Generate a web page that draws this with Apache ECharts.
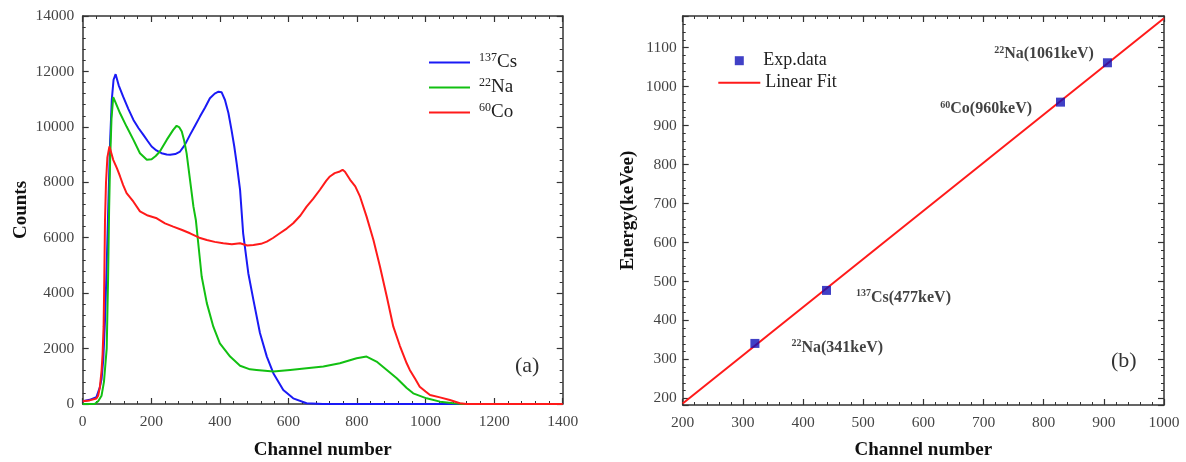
<!DOCTYPE html>
<html>
<head>
<meta charset="utf-8">
<script src="https://cdn.jsdelivr.net/npm/echarts@6/dist/echarts.min.js"></script>
<style>
  html, body { margin: 0; padding: 0; background: #fff; }
  #chart { width: 1186px; height: 462px; }
</style>
</head>
<body>
<div id="chart"></div>
<script>
// (a) pulse height spectra, channel -> counts
const csChannels = [0, 20, 40, 50, 55, 60, 65, 70, 75, 80, 85, 90, 96, 105, 118, 133, 148, 163, 177, 190, 201, 215, 230, 245, 255, 270, 284, 298, 313, 328, 342, 357, 371, 385, 396, 405, 415, 425, 434, 442, 449, 459, 468, 483, 498, 517, 537, 556, 585, 614, 653, 700, 800, 900, 1000, 1100]
const csCounts = [100, 150, 250, 600, 900, 1600, 3000, 5000, 7300, 9500, 11000, 11700, 11900, 11500, 11090, 10650, 10250, 9950, 9710, 9480, 9290, 9150, 9050, 9000, 8990, 9020, 9110, 9350, 9710, 10050, 10370, 10700, 11030, 11200, 11270, 11250, 10970, 10500, 9890, 9300, 8690, 7725, 6160, 4720, 3750, 2560, 1710, 1110, 505, 205, 25, 0, 0, 0, 0, 0]

const naChannels = [0, 35, 45, 55, 62, 66, 70, 74, 77, 80, 84, 89, 95, 109, 128, 148, 167, 187, 201, 213, 225, 245, 264, 274, 282, 289, 296, 303, 313, 323, 330, 337, 347, 362, 381, 400, 430, 459, 488, 507, 556, 605, 653, 702, 750, 799, 828, 857, 887, 916, 945, 964, 1003, 1042, 1081, 1110, 1150]
const naCounts = [0, 0, 100, 300, 800, 1400, 2000, 4500, 7000, 8800, 10300, 11070, 10900, 10490, 10010, 9530, 9050, 8810, 8830, 8950, 9110, 9530, 9890, 10040, 9980, 9830, 9500, 9050, 8090, 7120, 6640, 5800, 4600, 3640, 2790, 2190, 1710, 1380, 1250, 1230, 1170, 1230, 1290, 1350, 1470, 1650, 1710, 1530, 1230, 930, 580, 385, 205, 85, 25, 0, 0]

const coChannels = [0, 20, 40, 45, 50, 55, 58, 61, 63, 65, 68, 72, 78, 89, 100, 109, 118, 128, 148, 167, 190, 216, 240, 264, 290, 313, 340, 362, 385, 410, 435, 459, 480, 498, 520, 537, 555, 575, 595, 614, 635, 653, 672, 692, 710, 721, 735, 750, 758, 765, 780, 795, 809, 828, 848, 867, 887, 906, 925, 945, 954, 970, 983, 1000, 1013, 1042, 1071, 1100, 1120, 1400]
const coCounts = [100, 130, 200, 300, 600, 1200, 1800, 2800, 4500, 6600, 8000, 8900, 9290, 8810, 8500, 8210, 7900, 7610, 7300, 6950, 6800, 6700, 6520, 6400, 6280, 6160, 6000, 5920, 5850, 5800, 5760, 5800, 5720, 5740, 5780, 5860, 5990, 6160, 6330, 6520, 6800, 7120, 7400, 7730, 8050, 8210, 8330, 8390, 8450, 8380, 8090, 7850, 7480, 6760, 5920, 4960, 3870, 2790, 2100, 1470, 1230, 900, 625, 450, 325, 240, 145, 25, 0, 0]

// (b) calibration points and linear fit
const expChannels = [320, 439, 828, 906]
const expEnergy = [341, 477, 960, 1061]
const expMass = ['22', '137', '60', '22']
const expElement = ['Na', 'Cs', 'Co', 'Na']
const fitChannels = [200, 1000]
const fitEnergy = [187, 1175]

const serif = 'Liberation Serif'
const axisColor = '#333'
const zip = (xs, ys) => xs.map((x, i) => [x, ys[i]])

// label placement for the four calibration points
const labelPlace = [
  { position: 'right', offset: [27, 4] },
  { position: 'right', offset: [20, 7] },
  { position: 'left', offset: [-19, 7] },
  { position: 'left', offset: [-4, -9] }
]

function boxAxis(opts, main, margin) {
  return Object.assign({
    type: 'value',
    axisLine: { show: true, onZero: false, lineStyle: { color: axisColor, width: 1.5 } },
    axisTick: { show: true, inside: true, length: 6, lineStyle: { color: axisColor, width: 1.2 } },
    minorTick: { show: true, splitNumber: 5, length: 3, lineStyle: { color: axisColor, width: 1 } },
    splitLine: { show: false },
    axisLabel: main
      ? { show: true, fontFamily: serif, fontSize: 15.5, color: '#444', margin: margin || 8, formatter: v => String(v) }
      : { show: false }
  }, opts)
}

const nameStyle = { fontFamily: serif, fontSize: 19, fontWeight: 'bold', color: '#111' }
const supRich = {
  s: { fontFamily: serif, fontSize: 12, verticalAlign: 'top', color: '#222', lineHeight: 21 },
  m: { fontFamily: serif, fontSize: 19, color: '#222', lineHeight: 21 }
}

const chart = echarts.init(document.getElementById('chart'))
chart.setOption({
  animation: false,
  backgroundColor: '#fff',
  title: [
    { text: '(a)', left: 510, top: 350, textStyle: { fontFamily: serif, fontSize: 22, fontWeight: 'normal', color: '#333' } },
    { text: '(b)', left: 1106, top: 345, textStyle: { fontFamily: serif, fontSize: 22, fontWeight: 'normal', color: '#333' } }
  ],
  grid: [
    { left: 82.7, right: 623.3, top: 16, bottom: 58, outerBoundsMode: 'none', containLabel: false },
    { left: 682.7, right: 22, top: 16, bottom: 57, outerBoundsMode: 'none', containLabel: false }
  ],
  legend: [
    {
      data: ['137Cs', '22Na', '60Co'],
      orient: 'vertical', left: 429, top: 52, padding: 0, itemGap: 5,
      icon: 'rect', itemWidth: 41, itemHeight: 2,
      formatter: function(name) {
        const m = name.match(/^(\d+)(\D+)$/)
        return '{s|' + m[1] + '}{m|' + m[2] + '}'
      },
      textStyle: { padding: [0, 0, 0, 4], rich: supRich }
    },
    {
      data: ['Exp.data'],
      left: 734.8, top: 50.7, padding: 0,
      icon: 'rect', itemWidth: 9, itemHeight: 9,
      textStyle: { fontFamily: serif, fontSize: 18, color: '#222', padding: [0, 0, 0, 14.5], lineHeight: 20 }
    },
    {
      data: ['Linear Fit'],
      left: 718.3, top: 72.7, padding: 0,
      icon: 'rect', itemWidth: 42, itemHeight: 2,
      textStyle: { fontFamily: serif, fontSize: 18, color: '#222', lineHeight: 20 }
    }
  ],
  xAxis: [
    boxAxis({ gridIndex: 0, min: 0, max: 1400, interval: 200, name: 'Channel number', nameLocation: 'middle', nameGap: 37, nameTextStyle: nameStyle }, true, 10),
    boxAxis({ gridIndex: 0, min: 0, max: 1400, interval: 200, position: 'top' }, false),
    boxAxis({ gridIndex: 1, min: 200, max: 1000, interval: 100, name: 'Channel number', nameLocation: 'middle', nameGap: 36, nameTextStyle: nameStyle }, true, 10),
    boxAxis({ gridIndex: 1, min: 200, max: 1000, interval: 100, position: 'top' }, false)
  ],
  yAxis: [
    boxAxis({ gridIndex: 0, min: 0, max: 14000, interval: 2000, name: 'Counts', nameLocation: 'middle', nameGap: 52, nameTextStyle: nameStyle }, true, 8.5),
    boxAxis({ gridIndex: 0, min: 0, max: 14000, interval: 2000, position: 'right' }, false),
    boxAxis({
      gridIndex: 1, min: 183, max: 1181, splitNumber: 10, name: 'Energy(keVee)', nameLocation: 'middle', nameGap: 45, nameTextStyle: nameStyle,
      axisLabel: { show: true, fontFamily: serif, fontSize: 15.5, color: '#444', margin: 6, formatter: v => (v % 100 === 0 ? String(v) : '') }
    }, true),
    boxAxis({ gridIndex: 1, min: 183, max: 1181, splitNumber: 10, position: 'right' }, false)
  ],
  series: [
    {
      name: '137Cs', type: 'line', xAxisIndex: 0, yAxisIndex: 0,
      data: zip(csChannels, csCounts), showSymbol: false, symbol: 'none',
      lineStyle: { color: '#1a1af5', width: 2 }, itemStyle: { color: '#1a1af5' }
    },
    {
      name: '22Na', type: 'line', xAxisIndex: 0, yAxisIndex: 0,
      data: zip(naChannels, naCounts), showSymbol: false, symbol: 'none',
      lineStyle: { color: '#12c012', width: 2 }, itemStyle: { color: '#12c012' }
    },
    {
      name: '60Co', type: 'line', xAxisIndex: 0, yAxisIndex: 0,
      data: zip(coChannels, coCounts), showSymbol: false, symbol: 'none',
      lineStyle: { color: '#ff1a1a', width: 2 }, itemStyle: { color: '#ff1a1a' }
    },
    {
      name: 'Linear Fit', type: 'line', xAxisIndex: 2, yAxisIndex: 2,
      data: zip(fitChannels, fitEnergy), showSymbol: false, symbol: 'none',
      lineStyle: { color: '#ff1a1a', width: 2 }, itemStyle: { color: '#ff1a1a' }
    },
    {
      name: 'Exp.data', type: 'scatter', xAxisIndex: 2, yAxisIndex: 2,
      symbol: 'rect', symbolSize: 9, z: 5,
      itemStyle: { color: '#1010b8' },
      data: expChannels.map((c, i) => ({
        value: [c, expEnergy[i]],
        label: Object.assign({
          show: true,
          formatter: '{s|' + expMass[i] + '}{b|' + expElement[i] + '(' + expEnergy[i] + 'keV)}',
          rich: {
            s: { fontFamily: serif, fontSize: 10, fontWeight: 'bold', color: '#111', verticalAlign: 'top', lineHeight: 17 },
            b: { fontFamily: serif, fontSize: 16, fontWeight: 'bold', color: '#111', lineHeight: 17 }
          }
        }, labelPlace[i])
      }))
    }
  ]
})
</script>
</body>
</html>
